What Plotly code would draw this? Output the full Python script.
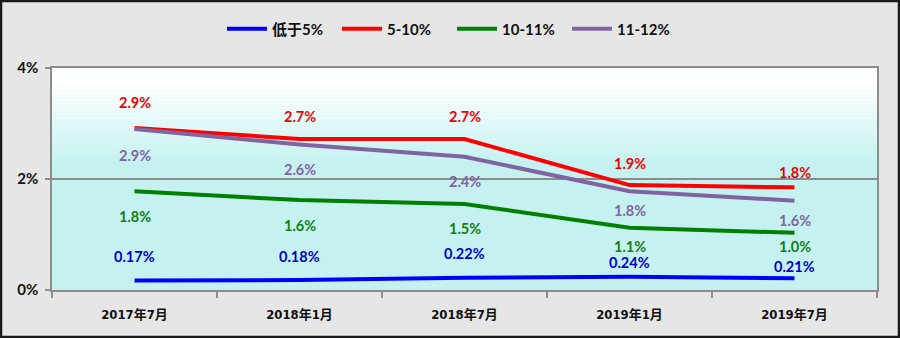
import plotly.graph_objects as go

categories = ["2017年7月", "2018年1月", "2018年7月", "2019年1月", "2019年7月"]
series_names = ["低于5%", "5-10%", "10-11%", "11-12%"]
below5 = [0.17, 0.18, 0.22, 0.24, 0.21]
r5_10 = [2.92, 2.72, 2.72, 1.89, 1.85]
r10_11 = [1.78, 1.62, 1.55, 1.12, 1.03]
r11_12 = [2.90, 2.62, 2.40, 1.78, 1.61]
label_texts = {
    "低于5%": ["0.17%", "0.18%", "0.22%", "0.24%", "0.21%"],
    "5-10%": ["2.9%", "2.7%", "2.7%", "1.9%", "1.8%"],
    "10-11%": ["1.8%", "1.6%", "1.5%", "1.1%", "1.0%"],
    "11-12%": ["2.9%", "2.6%", "2.4%", "1.8%", "1.6%"],
}
y_ticks = [0, 2, 4]

# styling
line_colors = {"低于5%": "#0000ff", "5-10%": "#ff0000", "10-11%": "#008000", "11-12%": "#8064a2"}
label_colors = {"低于5%": "#0000cc", "5-10%": "#ee0000", "10-11%": "#108010", "11-12%": "#8064a2"}
label_shift = {
    "低于5%": [24, 24, 24, 14, 12],
    "5-10%": [25, 23, 23, 22, 15],
    "10-11%": [-25, -25, -25, -19, -14],
    "11-12%": [-26, -25, -25, -19, -20],
}
values = {"低于5%": below5, "5-10%": r5_10, "10-11%": r10_11, "11-12%": r11_12}

W, H = 900, 338
ML, MR, MT, MB = 52, 23, 68, 48
PW, PH = W - ML - MR, H - MT - MB
LABEL_FONT = "Lato, 'Noto Sans CJK SC', sans-serif"
CJK_FONT = "'DejaVu Sans Condensed', 'Noto Sans CJK SC', sans-serif"

fig = go.Figure()
for name in series_names:
    fig.add_trace(go.Scatter(
        x=categories, y=values[name], name=name, mode="lines",
        line=dict(color=line_colors[name], width=4),
        hoverinfo="skip",
    ))
    for c, v, t, s in zip(categories, values[name], label_texts[name], label_shift[name]):
        fig.add_annotation(x=c, y=v, text=t, showarrow=False, yshift=s,
                           font=dict(family=LABEL_FONT, size=14.5, weight="bold", color=label_colors[name]))

# gradient background (white at top -> cyan)
cyan = (197, 242, 240)
top_val, bottom_val = 3.65, 2.3
n = 40
shapes = []
for i in range(n):
    y0 = 2.0 + 2.0 * i / n
    y1 = 2.0 + 2.0 * (i + 1) / n
    ym = (y0 + y1) / 2
    t = min(max((ym - bottom_val) / (top_val - bottom_val), 0), 1)
    col = tuple(round(c + (255 - c) * t) for c in cyan)
    shapes.append(dict(type="rect", xref="paper", yref="y", x0=0, x1=1, y0=y0, y1=y1,
                       fillcolor="rgb(%d,%d,%d)" % col, line=dict(width=0), layer="below"))
# outer frame of the image
shapes.append(dict(type="rect", xref="paper", yref="paper",
                   x0=(1 - ML) / PW, x1=(W - 1 - ML) / PW,
                   y0=-(MB - 1) / PH, y1=(PH + MT - 1) / PH,
                   line=dict(color="#1a1a1a", width=2.5), layer="above"))

fig.update_layout(
    width=W, height=H,
    margin=dict(l=ML, r=MR, t=MT, b=MB),
    paper_bgcolor="#e6e6e6",
    plot_bgcolor="rgb(%d,%d,%d)" % cyan,
    shapes=shapes,
    showlegend=True,
    legend=dict(orientation="h", x=(222 - ML) / PW, xanchor="left", y=(PH + MT - 29) / PH, yanchor="middle",
                font=dict(family=LABEL_FONT, size=15, weight="bold", color="#111111"),
                bgcolor="rgba(0,0,0,0)", itemwidth=40, tracegroupgap=0,
                entrywidth=60, entrywidthmode="pixels"),
)
fig.update_xaxes(
    type="category", range=[-0.5, len(categories) - 0.5],
    tickson="boundaries", ticks="outside", ticklen=6, tickwidth=1.5,
    tickcolor="#8c8c8c", showline=True, linecolor="#8c8c8c", linewidth=1.5, mirror=True,
    showgrid=False, tickfont=dict(family=CJK_FONT, size=13, weight="bold", color="#111111"),
    ticklabelstandoff=12, fixedrange=True,
)
fig.update_yaxes(
    range=[0, 4], tickvals=y_ticks, ticktext=["%d%%" % v for v in y_ticks],
    ticks="outside", ticklen=5, tickwidth=1.5, tickcolor="#8c8c8c",
    showline=True, linecolor="#8c8c8c", linewidth=1.5, mirror=True,
    showgrid=True, gridcolor="#8c8c8c", gridwidth=1.5, zeroline=False,
    tickfont=dict(family=LABEL_FONT, size=15, weight="bold", color="#111111"), ticklabelstandoff=4,
    fixedrange=True,
)

fig.write_html("out.html", config={"displayModeBar": False})
